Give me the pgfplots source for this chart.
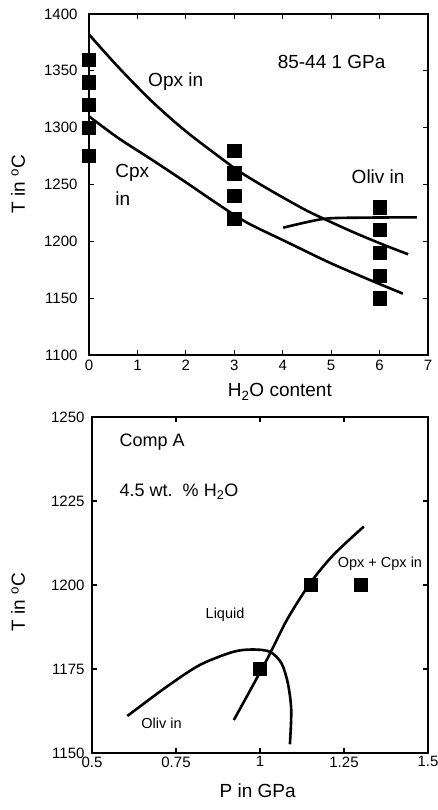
\documentclass[border=0pt]{standalone}
\usepackage{pgfplots}
\pgfplotsset{compat=1.18}
\usepackage{fontspec}
\setmainfont{Liberation Sans}

\pgfplotsset{
  phase/.style={
    scale only axis,
    anchor=south west,
    clip=false,
    axis line style={line width=1.3pt},
    tick align=inside,
    major tick length=5pt,
    tick style={line width=1.1pt, black},
    /pgf/number format/assume math mode=true,
    /pgf/number format/1000 sep={},
    tick label style={font=\fontsize{15}{17}\selectfont},
    label style={font=\fontsize{19}{21}\selectfont},
  },
  curve/.style={black, line width=2.6pt, smooth, no marks},
  pts/.style={black, only marks, mark=square*, mark size=6.6pt},
}

\begin{document}
\begin{tikzpicture}
\useasboundingbox (0,0) rectangle (438pt,810pt);

% upper panel: T vs H2O content
\begin{axis}[
  phase,
  at={(89pt,455pt)},
  width=339pt, height=341pt,
  xmin=0, xmax=7, ymin=1100, ymax=1400,
  xtick={0,1,...,7},
  ytick={1100,1150,...,1400},
  yticklabel style={xshift=-8pt},
  xticklabel style={yshift=-2pt},
  xlabel={H\textsubscript{2}O content},
  ylabel={T in \textsuperscript{o}C},
  xlabel style={at={(axis description cs:0.563,-0.123)}, anchor=base},
  ylabel style={at={(axis description cs:-0.209,0.5)}, anchor=center},
]
% Opx in
\addplot[curve] coordinates {
  (0,1382) (0.6,1353.5) (1.29,1323.5) (1.98,1297.5) (2.7,1274) (3.12,1261)
  (3.74,1245) (4.43,1228.5) (4.84,1220) (5.46,1208) (6.08,1197) (6.59,1188.6)
};
% Cpx in
\addplot[curve] coordinates {
  (0,1310) (0.6,1291) (1.29,1272) (1.98,1252.5) (2.67,1232.5) (3.26,1216.5)
  (4.08,1199.5) (4.98,1181) (5.8,1166) (6.48,1154)
};
% Oliv in
\addplot[curve] coordinates {
  (4.01,1212) (4.84,1219.7) (5.6,1220.8) (6.77,1221.1)
};
\addplot[pts] coordinates {
  (0,1360) (0,1340) (0,1320) (0,1300) (0,1275)
  (3,1280) (3,1260) (3,1240) (3,1220)
  (6,1230) (6,1210) (6,1190) (6,1170) (6,1150)
};
\node[font=\fontsize{19}{21}\selectfont] at (axis cs:5.01,1358) {85-44 1 GPa};
\node[font=\fontsize{19}{21}\selectfont] at (axis cs:1.79,1340.5) {Opx in};
\node[font=\fontsize{19}{21}\selectfont, anchor=west] at (axis cs:0.47,1259.9) {Cpx};
\node[font=\fontsize{19}{21}\selectfont, anchor=west] at (axis cs:0.47,1237.9) {in};
\node[font=\fontsize{19}{21}\selectfont] at (axis cs:5.97,1257) {Oliv in};
\end{axis}

% lower panel: T vs P
\begin{axis}[
  phase,
  at={(92pt,57pt)},
  width=336pt, height=336pt,
  xmin=0.5, xmax=1.5, ymin=1150, ymax=1250,
  xtick={0.5,0.75,1,1.25,1.5},
  ytick={1150,1175,...,1250},
  yticklabel style={xshift=-4pt},
  xlabel={P in GPa},
  ylabel={T in \textsuperscript{o}C},
  xlabel style={at={(axis description cs:0.493,-0.131)}, anchor=base},
  ylabel style={at={(axis description cs:-0.220,0.449)}, anchor=center},
]
\addplot[curve] coordinates {
  (0.605,1161) (0.722,1169.7) (0.821,1176.2) (0.92,1180.1) (0.98,1180.8)
  (1.03,1180.1) (1.064,1176.7) (1.083,1170.7) (1.093,1162.8) (1.089,1152.6)
};
\addplot[curve] coordinates {
  (0.922,1159.8) (1.02,1177.7) (1.08,1189.6) (1.149,1200.5) (1.218,1208.9) (1.309,1217.4)
};
\addplot[pts] coordinates {
  (1.0,1175) (1.15,1200) (1.3,1200)
};
\node[font=\fontsize{18}{20}\selectfont, anchor=west] at (axis cs:0.572,1242.6) {Comp A};
\node[font=\fontsize{18}{20}\selectfont, anchor=west] at (axis cs:0.572,1227.8) {4.5 wt.\ \ \% H\textsubscript{2}O};
\node[font=\fontsize{14.5}{16}\selectfont] at (axis cs:0.896,1191) {Liquid};
\node[font=\fontsize{14.5}{16}\selectfont] at (axis cs:1.357,1206.3) {Opx + Cpx in};
\node[font=\fontsize{14.5}{16}\selectfont] at (axis cs:0.707,1158.8) {Oliv in};
\end{axis}
\end{tikzpicture}
\end{document}
